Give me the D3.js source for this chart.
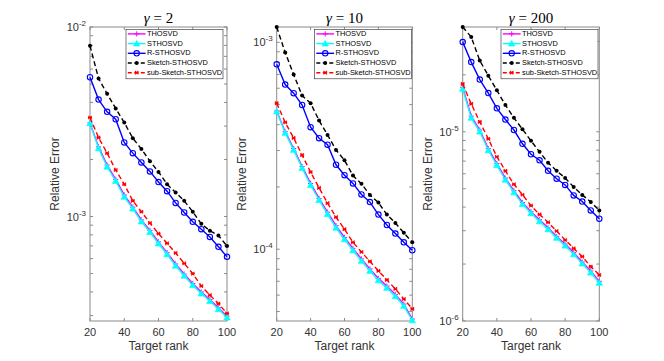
<!DOCTYPE html>
<html><head><meta charset="utf-8">
<script src="https://cdn.jsdelivr.net/npm/d3@7"></script>
<style>body{margin:0;background:#fff}svg{display:block}</style>
</head><body>
<svg id="c" width="664" height="361"></svg>
<script>
const ranks = [20,25,30,35,40,45,50,55,60,65,70,75,80,85,90,95,100];
const xTicks = [20,40,60,80,100];
const seriesNames = ["THOSVD","STHOSVD","R-STHOSVD","Sketch-STHOSVD","sub-Sketch-STHOSVD"];
const gammaLabels = ["2","10","200"];
const yLimits = [[2.81e-4, 1e-2],[4.5e-5, 1.186e-3],[1e-6, 3.58e-5]];

// gamma = 2
const g2_THOSVD = [3.12e-3,2.33e-3,1.87e-3,1.57e-3,1.30e-3,1.12e-3,9.6e-4,8.45e-4,7.35e-4,6.45e-4,5.62e-4,4.97e-4,4.43e-4,4.0e-4,3.65e-4,3.30e-4,2.98e-4];
const g2_STHOSVD = [3.10e-3,2.29e-3,1.83e-3,1.54e-3,1.27e-3,1.10e-3,9.41e-4,8.28e-4,7.20e-4,6.32e-4,5.50e-4,4.87e-4,4.34e-4,3.92e-4,3.58e-4,3.24e-4,2.93e-4];
const g2_R = [5.43e-3,4.14e-3,3.57e-3,3.26e-3,2.46e-3,2.16e-3,1.93e-3,1.73e-3,1.52e-3,1.36e-3,1.18e-3,1.05e-3,9.38e-4,8.57e-4,7.80e-4,6.92e-4,6.13e-4];
const g2_Sketch = [7.96e-3,5.35e-3,4.44e-3,3.72e-3,3.13e-3,2.59e-3,2.27e-3,1.96e-3,1.72e-3,1.48e-3,1.34e-3,1.21e-3,1.06e-3,9.15e-4,8.41e-4,7.94e-4,6.99e-4];
const g2_sub = [3.33e-3,2.61e-3,2.16e-3,1.76e-3,1.48e-3,1.21e-3,1.06e-3,9.24e-4,8.13e-4,7.22e-4,6.42e-4,5.66e-4,5.0e-4,4.3e-4,3.85e-4,3.47e-4,3.08e-4];
// gamma = 10
const g10_THOSVD = [4.66e-4,3.70e-4,3.07e-4,2.51e-4,2.08e-4,1.76e-4,1.51e-4,1.30e-4,1.14e-4,1.01e-4,8.98e-5,8.04e-5,7.23e-5,6.64e-5,6.05e-5,5.43e-5,4.60e-5];
const g10_STHOSVD = [4.63e-4,3.65e-4,3.02e-4,2.47e-4,2.04e-4,1.73e-4,1.48e-4,1.27e-4,1.115e-4,9.87e-5,8.78e-5,7.86e-5,7.07e-5,6.50e-5,5.92e-5,5.32e-5,4.53e-5];
const g10_R = [7.83e-4,6.25e-4,5.68e-4,4.98e-4,3.89e-4,3.44e-4,3.20e-4,2.56e-4,2.28e-4,2.08e-4,1.84e-4,1.69e-4,1.47e-4,1.31e-4,1.19e-4,1.08e-4,9.89e-5];
const g10_Sketch = [1.185e-3,8.93e-4,6.99e-4,5.53e-4,5.08e-4,4.19e-4,3.57e-4,3.02e-4,2.69e-4,2.27e-4,2.07e-4,1.83e-4,1.68e-4,1.47e-4,1.34e-4,1.20e-4,1.08e-4];
const g10_sub = [5.08e-4,4.10e-4,3.45e-4,2.85e-4,2.36e-4,1.98e-4,1.67e-4,1.43e-4,1.25e-4,1.08e-4,9.70e-5,8.73e-5,7.86e-5,7.11e-5,6.43e-5,5.75e-5,5.15e-5];
// gamma = 200
const g200_THOSVD = [1.72e-5,1.21e-5,1.022e-5,8.15e-6,6.79e-6,5.69e-6,4.88e-6,4.23e-6,3.78e-6,3.43e-6,3.11e-6,2.80e-6,2.55e-6,2.30e-6,2.05e-6,1.84e-6,1.62e-6];
const g200_STHOSVD = [1.686e-5,1.185e-5,1.002e-5,7.99e-6,6.66e-6,5.58e-6,4.78e-6,4.15e-6,3.71e-6,3.36e-6,3.05e-6,2.75e-6,2.50e-6,2.25e-6,2.01e-6,1.80e-6,1.59e-6];
const g200_R = [2.98e-5,2.335e-5,1.888e-5,1.602e-5,1.33e-5,1.161e-5,1.022e-5,8.64e-6,7.61e-6,7.07e-6,6.22e-6,5.65e-6,5.24e-6,4.61e-6,4.28e-6,3.84e-6,3.47e-6];
const g200_Sketch = [3.58e-5,3.17e-5,2.38e-5,1.98e-5,1.656e-5,1.385e-5,1.185e-5,1.031e-5,8.96e-6,7.84e-6,6.86e-6,6.22e-6,5.70e-6,5.11e-6,4.64e-6,4.26e-6,3.84e-6];
const g200_sub = [1.79e-5,1.405e-5,1.129e-5,9.18e-6,7.38e-6,6.22e-6,5.28e-6,4.65e-6,4.07e-6,3.66e-6,3.32e-6,2.99e-6,2.68e-6,2.42e-6,2.19e-6,1.94e-6,1.75e-6];

const panelData = [
  [g2_THOSVD,g2_STHOSVD,g2_R,g2_Sketch,g2_sub],
  [g10_THOSVD,g10_STHOSVD,g10_R,g10_Sketch,g10_sub],
  [g200_THOSVD,g200_STHOSVD,g200_R,g200_Sketch,g200_sub]
];

// layout
const panels = [
  {x0:90, x1:227, legRight:223},
  {x0:276.7, x1:412.3, legRight:411.5},
  {x0:462.7, x1:599.3, legRight:598}
];
const Y0 = 27, Y1 = 321;
const styles = [
  {color:"#ff00ff", dash:null, marker:"plus"},
  {color:"#00ffff", dash:null, marker:"tri"},
  {color:"#0000ff", dash:null, marker:"circle"},
  {color:"#000000", dash:"5,3", marker:"dot"},
  {color:"#ff0000", dash:"5,3", marker:"x"}
];
const axisColor = "#8a8a8a", textColor = "#333333";
const sans = "'Liberation Sans', Arial, sans-serif";

const svg = d3.select("#c");
svg.append("rect").attr("width",664).attr("height",361).attr("fill","#fff");

function drawMarker(g, type, color, x, y){
  if(type==="plus"){
    g.append("path").attr("d",`M${x-2.6},${y}H${x+2.6}M${x},${y-2.6}V${y+2.6}`).attr("stroke",color).attr("stroke-width",1).attr("fill","none");
  } else if(type==="tri"){
    const s=3.2;
    g.append("path").attr("d",`M${x},${y-s}L${x+s},${y+s*0.75}L${x-s},${y+s*0.75}Z`).attr("fill",color).attr("stroke",color).attr("stroke-width",0.7);
  } else if(type==="circle"){
    g.append("circle").attr("cx",x).attr("cy",y).attr("r",2.7).attr("fill","none").attr("stroke",color).attr("stroke-width",1.1);
  } else if(type==="dot"){
    g.append("circle").attr("cx",x).attr("cy",y).attr("r",2).attr("fill",color);
  } else if(type==="x"){
    const s=1.7;
    g.append("path").attr("d",`M${x-s},${y-s}L${x+s},${y+s}M${x-s},${y+s}L${x+s},${y-s}M${x-s*1.2},${y}H${x+s*1.2}`).attr("stroke",color).attr("stroke-width",1.1).attr("fill","none");
  }
}

panels.forEach((p,pi)=>{
  const x = d3.scaleLinear().domain([20,100]).range([p.x0,p.x1]);
  const y = d3.scaleLog().domain(yLimits[pi]).range([Y1,Y0]);
  const g = svg.append("g");

  const cid = "clip"+pi;
  svg.append("clipPath").attr("id",cid).append("rect")
    .attr("x",p.x0-5).attr("y",Y0-5).attr("width",p.x1-p.x0+10).attr("height",Y1-Y0+10);

  g.append("rect").attr("x",p.x0).attr("y",Y0).attr("width",p.x1-p.x0).attr("height",Y1-Y0)
    .attr("fill","none").attr("stroke",axisColor).attr("stroke-width",1);

  xTicks.forEach(t=>{
    const xx = x(t);
    g.append("line").attr("x1",xx).attr("x2",xx).attr("y1",Y1).attr("y2",Y1-3).attr("stroke",axisColor);
    g.append("line").attr("x1",xx).attr("x2",xx).attr("y1",Y0).attr("y2",Y0+3).attr("stroke",axisColor);
    g.append("text").attr("x",xx).attr("y",Y1+12).attr("text-anchor","middle").attr("dominant-baseline","middle")
      .attr("font-family",sans).attr("font-size",11).attr("fill",textColor).text(t);
  });

  const [lo,hi] = yLimits[pi];
  const allTicks = y.ticks(10).filter(v=>v>=lo*0.999 && v<=hi*1.001);
  allTicks.forEach(v=>{
    const yy = y(v);
    const e = Math.log10(v);
    const major = Math.abs(e-Math.round(e))<1e-6;
    const len = 3;
    g.append("line").attr("x1",p.x0).attr("x2",p.x0+len).attr("y1",yy).attr("y2",yy).attr("stroke",axisColor);
    g.append("line").attr("x1",p.x1).attr("x2",p.x1-len).attr("y1",yy).attr("y2",yy).attr("stroke",axisColor);
    if(major){
      const t = g.append("text").attr("x",p.x0-4).attr("y",yy+4).attr("text-anchor","end")
        .attr("font-family",sans).attr("font-size",11).attr("fill",textColor);
      t.append("tspan").text("10");
      t.append("tspan").attr("dy",-5).attr("font-size",8).text(String(Math.round(e)));
    }
  });

  g.append("text").attr("x",(p.x0+p.x1)/2).attr("y",347).attr("text-anchor","middle").attr("dominant-baseline","middle")
    .attr("font-family",sans).attr("font-size",12).attr("fill",textColor).text("Target rank");
  g.append("text").attr("transform",`translate(${p.x0-34},${(Y0+Y1)/2}) rotate(-90)`)
    .attr("text-anchor","middle").attr("dominant-baseline","middle")
    .attr("font-family",sans).attr("font-size",12).attr("fill",textColor).text("Relative Error");

  const tt = g.append("text").attr("x",(p.x0+p.x1)/2).attr("y",23).attr("text-anchor","middle")
    .attr("font-family","'Liberation Serif', 'Times New Roman', serif").attr("font-size",15).attr("fill","#000");
  tt.append("tspan").attr("font-style","italic").text("γ");
  tt.append("tspan").text(" = "+gammaLabels[pi]);

  const plot = svg.append("g").attr("clip-path",`url(#${cid})`);
  const line = d3.line().x((d,i)=>x(ranks[i])).y(d=>y(d));
  panelData[pi].forEach((vals,si)=>{
    const st = styles[si];
    plot.append("path").datum(vals).attr("d",line).attr("fill","none")
      .attr("stroke",st.color).attr("stroke-width",1.4)
      .attr("stroke-dasharray",st.dash);
    vals.forEach((v,i)=>drawMarker(plot, st.marker, st.color, x(ranks[i]), y(v)));
  });

  const lw = 97, lh = 49.5;
  const lx = p.legRight - lw, ly = 29.3;
  const lg = svg.append("g");
  lg.append("rect").attr("x",lx).attr("y",ly).attr("width",lw).attr("height",lh)
    .attr("fill","#fff").attr("stroke","#262626").attr("stroke-width",0.6);
  seriesNames.forEach((n,si)=>{
    const st = styles[si];
    const yy = ly + 4.6 + si*9.7;
    lg.append("line").attr("x1",lx+1.8).attr("x2",lx+19.6).attr("y1",yy).attr("y2",yy)
      .attr("stroke",st.color).attr("stroke-width",1.4).attr("stroke-dasharray",st.dash ? "4,2.5" : null);
    drawMarker(lg, st.marker, st.color, lx+10.7, yy);
    lg.append("text").attr("x",lx+21).attr("y",yy).attr("dominant-baseline","middle")
      .attr("font-family",sans).attr("font-size",7.4).attr("fill","#000").text(n);
  });
});
</script>
</body></html>
